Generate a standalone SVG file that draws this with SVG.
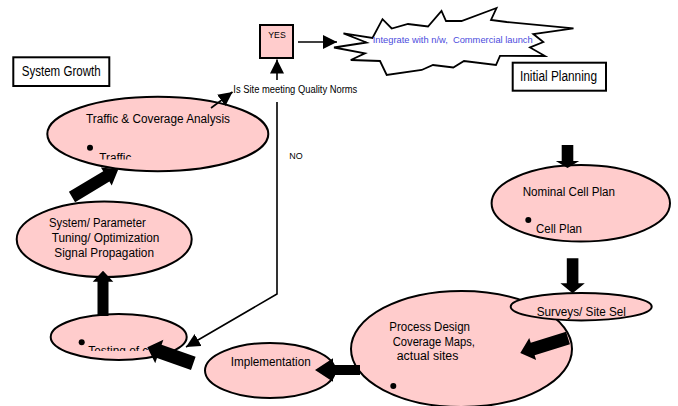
<svg xmlns="http://www.w3.org/2000/svg" width="678" height="406" viewBox="0 0 678 406">
<style>
.node{fill:#ffcccc;stroke:#000;stroke-width:2}
.box{fill:#fff;stroke:#000;stroke-width:2}
.t{font-family:"Liberation Sans",Arial,sans-serif;fill:#000}
.big{font-size:14px}
.mid{font-size:12.5px}
.sm{font-size:9.5px}
.thin{fill:none;stroke:#000;stroke-width:1.6;marker-end:url(#ah)}
.blk{fill:#000}
</style>
<defs>
<marker id="ah" markerUnits="userSpaceOnUse" markerWidth="16" markerHeight="16" refX="14" refY="7" orient="auto">
<path d="M0,0 L14,7 L0,14 z" fill="#000"/>
</marker>
<clipPath id="c1"><rect x="0" y="0" width="678" height="159.5"/></clipPath>
<clipPath id="c2"><rect x="0" y="0" width="678" height="351"/></clipPath>
</defs>

<g id="system-growth">
<rect class="box" x="13.3" y="57.3" width="96" height="28.7"/>
<text class="t big" x="21.7" y="76" textLength="79" lengthAdjust="spacingAndGlyphs">System Growth</text>
</g>

<g id="initial-planning">
<rect class="box" x="512.7" y="62.7" width="93.3" height="28"/>
<text class="t big" x="520" y="80.7" textLength="77" lengthAdjust="spacingAndGlyphs">Initial Planning</text>
</g>

<g id="yes">
<rect x="260" y="25" width="33" height="33" fill="#ffcccc" stroke="#000" stroke-width="2"/>
<text class="t" font-size="9" x="268.3" y="38.3" textLength="17.4" lengthAdjust="spacingAndGlyphs">YES</text>
</g>

<g id="launch">
<polygon points="343.5,33.3 372.5,38 382.5,19.2 391.7,28.5 408,24 428,26.5 441.5,11 446,21 461.5,21 496.5,8 491,20 506.7,22 573.5,28.3 533.3,34 543.3,42 530,47.5 545,56 500,55.8 496,65 464,61 453.3,67.5 433,65 421.7,70 386.7,75 380,61 350.8,60 365,53.3 334,47.5 366.5,42.5" fill="#fff" stroke="#000" stroke-width="1.8" stroke-linejoin="miter"/>
<text class="t sm" x="372.7" y="42.7" style="fill:#4b4bdd" xml:space="preserve" textLength="160" lengthAdjust="spacingAndGlyphs">Integrate with n/w,  Commercial launch</text>
</g>

<g id="decision">
<text class="t" font-size="10" x="233.3" y="93" textLength="124" lengthAdjust="spacingAndGlyphs">Is Site meeting Quality Norms</text>
<text class="t" font-size="9" x="289.3" y="159.3" textLength="13.4" lengthAdjust="spacingAndGlyphs">NO</text>
</g>

<g id="traffic">
<ellipse class="node" cx="157.8" cy="134" rx="110.5" ry="37.2"/>
<text class="t mid" x="86" y="123.3" textLength="144" lengthAdjust="spacingAndGlyphs">Traffic &amp; Coverage Analysis</text>
<circle cx="90" cy="147.7" r="3"/>
<text class="t mid" x="99.3" y="161.5" textLength="32" lengthAdjust="spacingAndGlyphs" clip-path="url(#c1)">Traffic</text>
</g>

<g id="tuning">
<ellipse class="node" cx="104.2" cy="239.3" rx="87.5" ry="37.7"/>
<text class="t mid" x="49" y="227.3" textLength="96.7" lengthAdjust="spacingAndGlyphs">System/ Parameter</text>
<text class="t mid" x="51.7" y="242.3" textLength="107.7" lengthAdjust="spacingAndGlyphs">Tuning/ Optimization</text>
<text class="t mid" x="54.3" y="257.3" textLength="99.7" lengthAdjust="spacingAndGlyphs">Signal Propagation</text>
</g>

<g id="testing">
<ellipse class="node" cx="118.7" cy="337" rx="68" ry="23"/>
<circle cx="81.7" cy="342.3" r="3"/>
<text class="t mid" x="88.3" y="355" textLength="60" lengthAdjust="spacingAndGlyphs" clip-path="url(#c2)">Testing of c</text>
</g>

<g id="implementation">
<ellipse class="node" cx="270" cy="370.5" rx="65" ry="27.5"/>
<text class="t mid" x="230.7" y="366" textLength="80" lengthAdjust="spacingAndGlyphs">Implementation</text>
</g>

<g id="process-design">
<ellipse class="node" cx="461.5" cy="349" rx="110.5" ry="58"/>
<text class="t mid" x="389.3" y="331" textLength="80.7" lengthAdjust="spacingAndGlyphs">Process Design</text>
<text class="t mid" x="392.7" y="346" textLength="82.3" lengthAdjust="spacingAndGlyphs">Coverage Maps,</text>
<text class="t mid" x="396.7" y="360" textLength="61.7" lengthAdjust="spacingAndGlyphs">actual sites</text>
<circle cx="393.3" cy="386" r="3"/>
</g>

<g id="surveys">
<ellipse class="node" cx="581.2" cy="306.7" rx="70.5" ry="13.7"/>
<text class="t mid" x="536.7" y="315.7" textLength="89.3" lengthAdjust="spacingAndGlyphs">Surveys/ Site Sel</text>
</g>

<g id="nominal">
<ellipse class="node" cx="580.8" cy="203.3" rx="89.2" ry="38.3"/>
<text class="t mid" x="522.7" y="195.7" textLength="92.3" lengthAdjust="spacingAndGlyphs">Nominal Cell Plan</text>
<circle cx="528.3" cy="220" r="3"/>
<text class="t mid" x="536" y="233.3" textLength="46" lengthAdjust="spacingAndGlyphs">Cell Plan</text>
</g>

<g id="connectors">
<path class="thin" d="M298,42 L337,42"/>
<path class="thin" d="M277,80 L277,59.5"/>
<path class="thin" d="M211,108 L232.5,92"/>
<path class="thin" d="M277,102 V294 L186,347"/>
<polygon class="blk" transform="translate(567.5,145) rotate(90)" points="0,-5.8 16,-5.8 16,-11.7 23,0 16,11.7 16,5.8 0,5.8"/>
<polygon class="blk" transform="translate(572.6,258.3) rotate(90)" points="0,-5.8 25,-5.8 25,-12.2 35,0 25,12.2 25,5.8 0,5.8"/>
<polygon class="blk" transform="translate(568,338) rotate(162.6)" points="0,-6.5 37,-6.5 37,-11.5 50,0 37,11.5 37,6.5 0,6.5"/>
<polygon class="blk" transform="translate(360,370) rotate(180)" points="0,-5 27,-5 27,-11.7 45,0 27,11.7 27,5 0,5"/>
<polygon class="blk" transform="translate(193.3,363.3) rotate(199.2)" points="0,-7 36,-7 36,-12.4 48.7,0 36,12.4 36,7 0,7"/>
<polygon class="blk" transform="translate(103,316) rotate(-90)" points="0,-5.5 34.3,-5.5 34.3,-10.3 45.3,0 34.3,10.3 34.3,5.5 0,5.5"/>
<polygon class="blk" transform="translate(72,197) rotate(-30.9)" points="0,-6 40,-6 40,-10.5 54,0 40,10.5 40,6 0,6"/>
</g>
</svg>
